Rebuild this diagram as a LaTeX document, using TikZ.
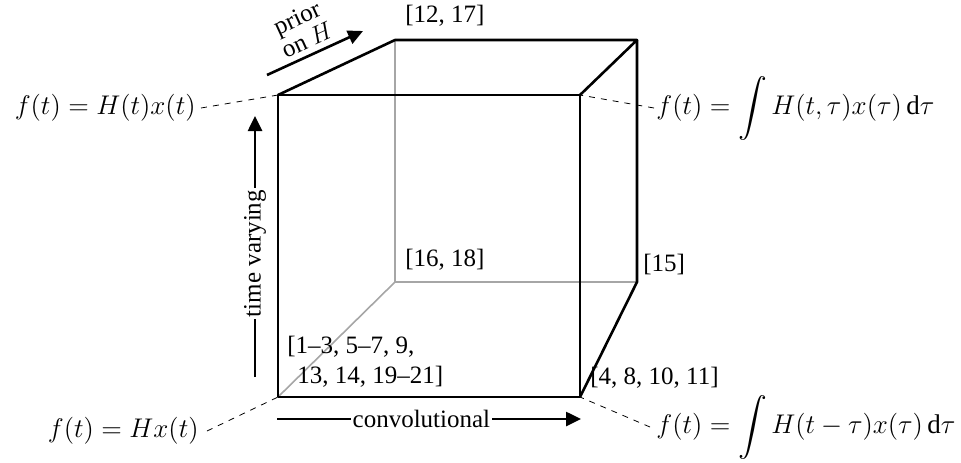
\RequirePackage{fix-cm}
\documentclass[tikz,border=0pt]{standalone}
\usepackage{exscale}
\usepackage{fontspec}
\setmainfont{Liberation Serif}
\usetikzlibrary{arrows.meta}
\begin{document}
\begin{tikzpicture}[x=0.5pt,y=-0.5pt,
  edge/.style={line width=1.3pt, line join=round},
  hidden/.style={line width=0.8pt, draw=black!35},
  lead/.style={dashed, line width=0.4pt},
  axisarrow/.style={line width=1.3pt, -{Triangle[length=7.5pt,width=7pt]}},
  lbl/.style={font=\fontsize{12.5}{15}\selectfont, inner sep=0pt},
  eq/.style={font=\fontsize{13.5}{16}\selectfont},
]
\useasboundingbox (0,0) rectangle (961,462);
% cube corners
\coordinate (A) at (278,95);
\coordinate (B) at (580,95);
\coordinate (C) at (580,397);
\coordinate (D) at (278,397);
\coordinate (E) at (395,40);
\coordinate (F) at (637,40);
\coordinate (G) at (637,282);
\coordinate (K) at (395,282);
% hidden edges
\draw[hidden] (E) -- (K) -- (G);
\draw[hidden] (K) -- (D);
% visible edges
\draw[edge] (A) -- (B) -- (C) -- (D) -- cycle;
\draw[edge] (A) -- (E) -- (F) -- (B);
\draw[edge] (F) -- (G) -- (C);
% axis arrows
\coordinate (p1) at (267,75);
\coordinate (p2) at (363,31);
\draw[axisarrow] (p1) -- (p2);
\node[lbl, rotate=24.6, align=center, font=\fontsize{12.5}{9.6}\selectfont] (prior) at (302,29) {prior\\on $H$};
\coordinate (t1) at (255,377);
\coordinate (t2) at (255,116);
\draw[axisarrow] (t1) -- node[lbl, pos=0.473, rotate=90, fill=white, inner sep=1pt] (tv) {time varying} (t2);
\coordinate (c1) at (277,419);
\coordinate (c2) at (581,419);
\draw[axisarrow] (c1) -- node[lbl, pos=0.475, fill=white, inner sep=1pt] (cv) {convolutional} (c2);
% corner labels
\node[lbl, anchor=west] (l1217) at (405,16) {[12, 17]};
\node[lbl, anchor=west] (l1618) at (405,260) {[16, 18]};
\node[lbl, anchor=west] (l15) at (643,264) {[15]};
\node[lbl, anchor=west] (l4) at (590,378) {[4, 8, 10, 11]};
\node[lbl, anchor=west, align=left] (l1) at (287,362) {[1--3, 5--7, 9,\\\hspace{5pt}13, 14, 19--21]};
% equations
\node[eq, anchor=east, inner sep=2.5pt] (ml1) at (201,108) {$f(t) = H(t)x(t)$};
\node[eq, anchor=east, inner sep=4pt] (ml2) at (207,431) {$f(t) = Hx(t)$};
\node[eq, anchor=west, inner sep=1pt] (mr1) at (654,108) {$\displaystyle f(t) = \int H(t,\tau)x(\tau)\,\mathrm{d}\tau$};
\node[eq, anchor=west, inner sep=3pt] (mr2) at (650,427) {$\displaystyle f(t) = \int H(t-\tau)x(\tau)\,\mathrm{d}\tau$};
\draw[lead] (ml1.east) -- (A);
\draw[lead] (ml2.east) -- (D);
\draw[lead] (mr1.west) -- (B);
\draw[lead] (mr2.west) -- (C);
\end{tikzpicture}
\end{document}
